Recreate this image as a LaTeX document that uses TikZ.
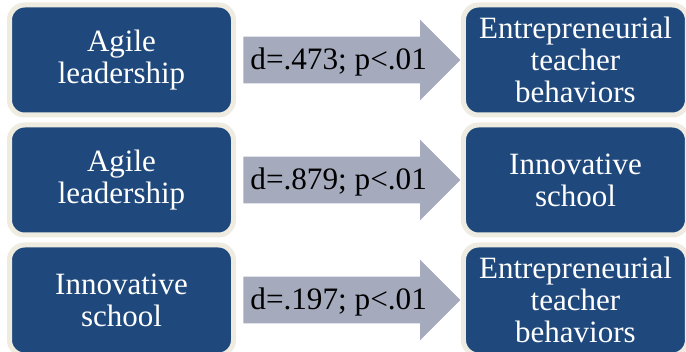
\documentclass[tikz,border=0pt]{standalone}
\usepackage{fontspec}
\setmainfont{Liberation Serif}
\usetikzlibrary{shapes.arrows}
\definecolor{boxblue}{HTML}{1F497D}
\definecolor{boxrim}{HTML}{EEECE1}
\definecolor{arrowgray}{HTML}{A5ABBD}

\begin{document}
\begin{tikzpicture}[x=.5pt,y=-.5pt,
  box/.style={draw=boxrim,line width=2.5pt,fill=boxblue,rounded corners=7.5pt,
    minimum width=112pt,minimum height=55pt,text width=108pt,align=center,
    text=white,inner sep=0pt,font=\fontsize{15.5}{16}\selectfont},
  effect/.style={single arrow,fill=arrowgray,anchor=tail,minimum height=108.5pt,
    inner xsep=0pt,inner ysep=11.5pt,single arrow head extend=8.5pt},
  effectlabel/.style={anchor=base west,inner sep=0pt,
    font=\fontsize{15.6}{16}\selectfont}]
\clip (0,0) rectangle (686,352);

% row 1
\node (al) [box] at (121.5,60) {Agile\\leadership};
\node (d1) [effect] at ([xshift=3.5pt]al.east) {};
\node (l1) [effectlabel] at ([xshift=3.5pt,yshift=-5pt]d1.tail) {d=.473; p<.01};
\node (et) [box,anchor=west] at (d1.tip) {Entrepreneurial\\teacher\\behaviors};

% row 2
\node (al2) [box] at (121.5,180) {Agile\\leadership};
\node (d2) [effect] at ([xshift=3.5pt]al2.east) {};
\node (l2) [effectlabel] at ([xshift=3.5pt,yshift=-5pt]d2.tail) {d=.879; p<.01};
\node (is) [box,anchor=west] at (d2.tip) {Innovative\\school};

% row 3
\node (is3) [box] at (121.5,300) {Innovative\\school};
\node (d3) [effect] at ([xshift=3.5pt]is3.east) {};
\node (l3) [effectlabel] at ([xshift=3.5pt,yshift=-5pt]d3.tail) {d=.197; p<.01};
\node (et3) [box,anchor=west] at (d3.tip) {Entrepreneurial\\teacher\\behaviors};

\end{tikzpicture}
\end{document}
